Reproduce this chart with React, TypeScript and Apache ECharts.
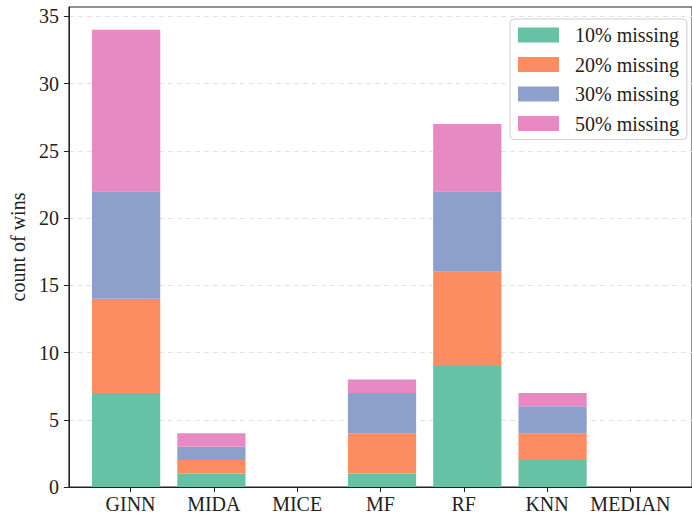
import React, { useEffect, useRef } from "react";
import * as echarts from "echarts";

const categories = ["GINN", "MIDA", "MICE", "MF", "RF", "KNN", "MEDIAN"];
const seriesNames = ["10% missing", "20% missing", "30% missing", "50% missing"];
const missing10 = [7, 1, 0, 1, 9, 2, 0];
const missing20 = [7, 1, 0, 3, 7, 2, 0];
const missing30 = [8, 1, 0, 3, 6, 2, 0];
const missing50 = [12, 1, 0, 1, 5, 1, 0];
const yTicks = [0, 5, 10, 15, 20, 25, 30, 35];

const colors = ["#66c2a5", "#fc8d62", "#8da0cb", "#e78ac3"];
const FONT = "'Liberation Serif', 'DejaVu Serif', serif";

// Frame grid spans x in [-0.74, 6.74]; the bar grid spans the 7 category bands.
const FRAME_LEFT = 63;
const FRAME_RIGHT = -9;
const X_MIN = -0.74;
const X_MAX = 6.74;
const UNIT = (692 - FRAME_LEFT - FRAME_RIGHT) / (X_MAX - X_MIN);
const BAND_PAD = (-0.5 - X_MIN) * UNIT;

export default function App() {
  const ref = useRef<HTMLDivElement>(null);

  useEffect(() => {
    if (!ref.current) return;
    const chart = echarts.init(ref.current, undefined, { renderer: "svg" });
    const values = [missing10, missing20, missing30, missing50];
    const catIdx = categories.map((_, i) => i);

    chart.setOption({
      animation: false,
      backgroundColor: "#fff",
      grid: [
        {
          left: FRAME_LEFT,
          right: FRAME_RIGHT,
          top: 7,
          bottom: 29,
          show: true,
          borderColor: "#222",
          borderWidth: 1,
          backgroundColor: "transparent",
        },
        {
          left: FRAME_LEFT + BAND_PAD,
          right: FRAME_RIGHT + BAND_PAD,
          top: 7,
          bottom: 29,
        },
      ],
      legend: {
        data: seriesNames,
        orient: "vertical",
        left: 510,
        top: 19,
        padding: [6, 8, 6, 8],
        itemWidth: 41,
        itemHeight: 15,
        itemGap: 9.5,
        backgroundColor: "#fff",
        borderColor: "#d0d0d0",
        borderWidth: 1,
        borderRadius: 4,
        icon: "rect",
        textStyle: {
          fontFamily: FONT,
          fontSize: 20,
          color: "#222",
          padding: [0, 0, 0, 11],
        },
      },
      xAxis: [
        {
          type: "value",
          gridIndex: 0,
          min: X_MIN,
          max: X_MAX,
          splitLine: { show: false },
          axisLine: { show: true, onZero: false, lineStyle: { color: "#222", width: 1 } },
          axisTick: {
            show: true,
            customValues: catIdx,
            length: 5,
            lineStyle: { color: "#222" },
          },
          axisLabel: {
            customValues: catIdx,
            formatter: (v: number) => categories[Math.round(v)] ?? "",
            fontFamily: FONT,
            fontSize: 20,
            color: "#222",
            margin: 7,
          },
        },
        {
          type: "category",
          gridIndex: 1,
          data: categories,
          show: false,
        },
      ],
      yAxis: [
        {
          type: "value",
          gridIndex: 0,
          min: 0,
          max: 35.7,
          interval: 5,
          name: "count of wins",
          nameLocation: "middle",
          nameGap: 37,
          nameTextStyle: { fontFamily: FONT, fontSize: 20, color: "#222" },
          axisLine: { show: true, onZero: false, lineStyle: { color: "#222", width: 1 } },
          axisTick: {
            show: true,
            customValues: yTicks,
            length: 5,
            lineStyle: { color: "#222" },
          },
          axisLabel: {
            customValues: yTicks,
            fontFamily: FONT,
            fontSize: 20,
            color: "#222",
            margin: 10,
          },
          splitLine: {
            show: true,
            lineStyle: { color: "#e3e3e3", type: [5, 4], width: 1 },
          },
        },
        {
          type: "value",
          gridIndex: 1,
          min: 0,
          max: 35.7,
          show: false,
          splitLine: { show: false },
        },
      ],
      series: seriesNames.map((name, s) => ({
        name,
        type: "bar",
        stack: "wins",
        xAxisIndex: 1,
        yAxisIndex: 1,
        barWidth: "80%",
        itemStyle: { color: colors[s] },
        data: values[s],
      })),
    });

    return () => chart.dispose();
  }, []);

  return (
    <div
      ref={ref}
      style={{ position: "fixed", left: 0, top: 0, width: 692, height: 516 }}
    />
  );
}
